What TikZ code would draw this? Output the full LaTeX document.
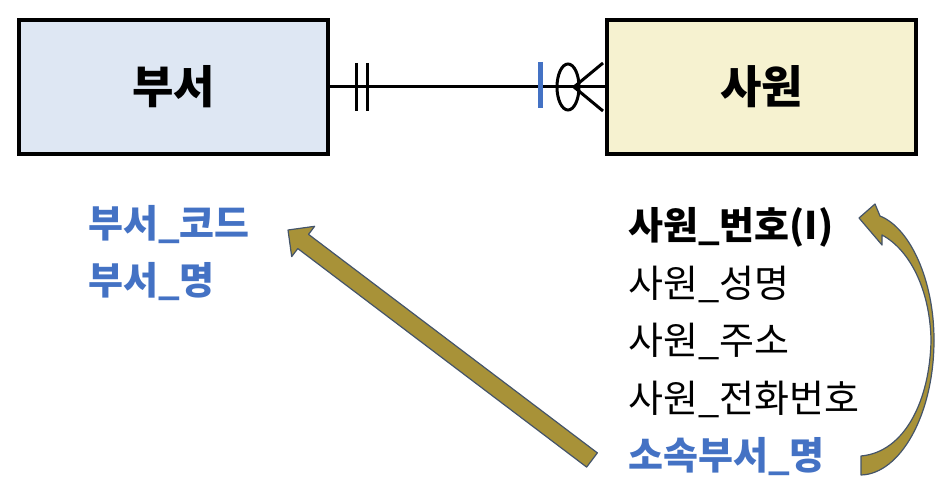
\documentclass[tikz,border=0pt]{standalone}
\usepackage{fontspec}
\setmainfont{Noto Sans CJK KR}
\usepackage{tikz}
\usetikzlibrary{calc}

\definecolor{deptfill}{RGB}{222,231,243}
\definecolor{empfill}{RGB}{246,242,208}
\definecolor{keyblue}{RGB}{68,114,196}
\definecolor{arrowgold}{RGB}{168,146,56}
\definecolor{arrowedge}{RGB}{68,84,106}

\tikzset{
  entity/.style={draw=black, line width=3.5pt, minimum width=309pt, minimum height=134pt,
    inner sep=0pt, font=\fontsize{45}{54}\selectfont\bfseries},
  attr/.style={anchor=base west, inner sep=0pt, font=\fontsize{38}{46}\selectfont},
  keyattr/.style={attr, font=\fontsize{38}{46}\selectfont\bfseries},
  fkattr/.style={keyattr, text=keyblue},
  rel/.style={line width=3pt},
  bigarrow/.style={draw=arrowedge, line width=1.2pt, fill=arrowgold, line join=round}
}

\begin{document}
\begin{tikzpicture}[x=1pt, y=-1pt]
        \useasboundingbox (0,0) rectangle (952,497);

        \node[entity, fill=deptfill] (dept) at (173.5,87) {부서};
        \node[entity, fill=empfill] (emp) at (761.5,87) {사원};

	% relationship line and its marks
	\draw[rel] (dept.east) -- (emp.west);
	\draw[rel] (356,63) -- (356,111) (367,63) -- (367,111);
	\draw[line width=5pt, keyblue] (540,62) -- (540,108);
	\draw[rel] (568,87) ellipse [x radius=11pt, y radius=23pt];
	\draw[rel] (603,63) -- (574,87) -- (603,111);

	% attributes
	\node[fkattr] (deptcode) at (88,237) {부서\_코드};
	\node[fkattr] (deptname) at (88,294) {부서\_명};

	\node[keyattr] (empno) at (628,239) {사원\_번호(I)};
	\node[attr] (empname) at (628,297) {사원\_성명};
	\node[attr] (empaddr) at (628,354) {사원\_주소};
	\node[attr] (emptel) at (628,412) {사원\_전화번호};
	\node[fkattr] (empdept) at (628,469) {소속부서\_명};

	% straight block arrow
	\coordinate (tailA) at (592,460);
	\coordinate (tipA) at (288,230);
	\coordinate (baseA) at ($(tipA)!19pt!(tailA)$);
	\draw[bigarrow] ($(tailA)!8.9pt!90:(tipA)$) -- ($(baseA)!8.9pt!-90:(tailA)$)
	  -- ($(baseA)!19pt!-90:(tailA)$) -- (tipA) -- ($(baseA)!19pt!90:(tailA)$)
	  -- ($(baseA)!8.9pt!90:(tailA)$) -- ($(tailA)!8.9pt!-90:(tipA)$) -- cycle;

	% curved block arrow
	\coordinate (tipB) at (859,218);
	\draw[bigarrow] (861,475) .. controls (900,474) and (934,415) .. (934,340)
	  .. controls (934,280) and (910,228) .. (880,216) -- (875,204) -- (tipB)
	  -- (882,245) -- (882,235) .. controls (910,250) and (930,290) .. (931,340)
	  .. controls (930,400) and (905,452) .. (861,456) -- cycle;
\end{tikzpicture}
\end{document}
